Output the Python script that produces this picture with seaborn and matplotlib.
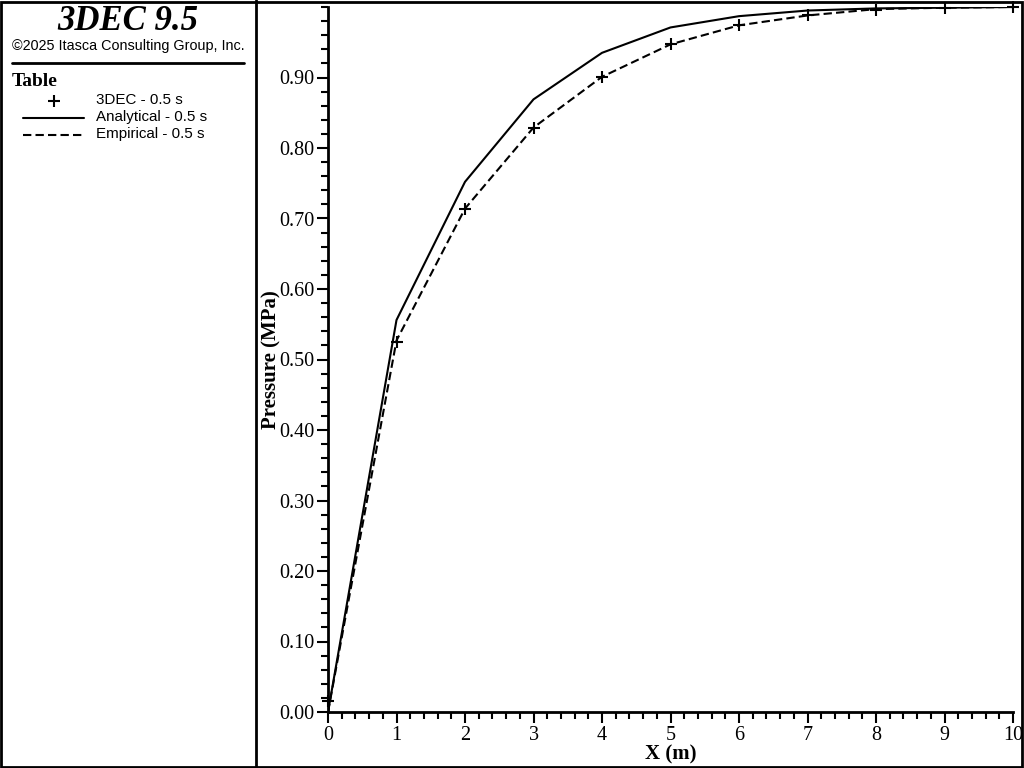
import numpy as np
import pandas as pd
import seaborn as sns
import matplotlib.pyplot as plt
from matplotlib.ticker import MultipleLocator, FormatStrFormatter
from matplotlib.lines import Line2D

sns.set_style('white')
plt.rcParams['text.color'] = 'black'
plt.rcParams['axes.labelcolor'] = 'black'
plt.rcParams['xtick.color'] = 'black'
plt.rcParams['ytick.color'] = 'black'

# valeurs
x_m = [0, 1, 2, 3, 4, 5, 6, 7, 8, 9, 10]
analytical = [0.0, 0.556, 0.752, 0.869, 0.935, 0.971, 0.987, 0.995, 0.998, 0.999, 1.0]
empirical = [0.0, 0.527, 0.714, 0.829, 0.901, 0.947, 0.974, 0.988, 0.997, 0.999, 1.0]
dec3 = [0.015, 0.525, 0.713, 0.829, 0.901, 0.948, 0.974, 0.989, 0.996, 0.999, 1.0]

df_lines = pd.DataFrame({
    'x': x_m * 2,
    'p': analytical + empirical,
    'serie': ['Analytical - 0.5 s'] * len(x_m) + ['Empirical - 0.5 s'] * len(x_m),
})
df_pts = pd.DataFrame({'x': x_m, 'p': dec3})

fig = plt.figure(figsize=(10.24, 7.68), dpi=100)
ax = fig.add_axes([328 / 1024, 56 / 768, 685 / 1024, 705 / 768])

sns.lineplot(data=df_lines, x='x', y='p', style='serie', color='black',
             dashes={'Analytical - 0.5 s': '', 'Empirical - 0.5 s': (4, 2)},
             linewidth=1.5, legend=False, ax=ax)
sns.scatterplot(data=df_pts, x='x', y='p', marker='+', color='black', s=80,
                linewidth=1.5, legend=False, ax=ax, zorder=5, clip_on=False)

ax.set_xlim(0, 10)
ax.set_ylim(0, 1.0)
ax.xaxis.set_major_locator(MultipleLocator(1))
ax.xaxis.set_minor_locator(MultipleLocator(0.2))
ax.yaxis.set_major_locator(MultipleLocator(0.1))
ax.yaxis.set_minor_locator(MultipleLocator(0.02))
ax.yaxis.set_major_formatter(FormatStrFormatter('%.2f'))
ax.set_yticks(np.arange(0, 0.95, 0.1))
ax.tick_params(which='major', direction='out', length=8, width=1.5, color='black',
               labelsize=14.5, pad=2, left=True, bottom=True, labelcolor='black')
ax.tick_params(which='minor', direction='out', length=5, width=1.5, color='black',
               left=True, bottom=True)
for lab in ax.get_xticklabels() + ax.get_yticklabels():
    lab.set_family('Liberation Serif')
for s in ['top', 'right']:
    ax.spines[s].set_visible(False)
for s in ['left', 'bottom']:
    ax.spines[s].set_color('black')
    ax.spines[s].set_linewidth(2)

ax.set_xlabel('X (m)', family='Liberation Serif', fontweight='bold', fontsize=15,
              labelpad=0, color='black')
ax.set_ylabel('Pressure (MPa)', family='Liberation Serif', fontweight='bold', fontsize=15,
              labelpad=-2, color='black')

# cadre et panneau de gauche
fig.add_artist(plt.Rectangle((0.001, 0.001), 0.997, 0.997, transform=fig.transFigure,
                             fill=False, edgecolor='black', linewidth=2))
fig.add_artist(Line2D([256 / 1024, 256 / 1024], [0, 1], transform=fig.transFigure,
                      color='black', linewidth=2))
fig.add_artist(Line2D([12 / 1024, 244 / 1024], [1 - 63 / 768] * 2, transform=fig.transFigure,
                      color='black', linewidth=2))

fig.text(128 / 1024, 1 - 21 / 768, '3DEC 9.5', family='Liberation Serif', fontweight='bold',
         style='italic', fontsize=25, ha='center', va='center', color='black')
fig.text(128 / 1024, 1 - 46 / 768, '\u00a92025 Itasca Consulting Group, Inc.',
         family='Liberation Sans', fontsize=10.35, ha='center', va='center', color='black')
fig.text(12 / 1024, 1 - 82 / 768, 'Table', family='Liberation Serif', fontweight='bold',
         fontsize=14, ha='left', va='center', color='black')

entries = [('3DEC - 0.5 s', 100), ('Analytical - 0.5 s', 117), ('Empirical - 0.5 s', 134)]
for txt, yp in entries:
    fig.text(96 / 1024, 1 - yp / 768, txt, family='Liberation Sans', fontsize=10.9,
             ha='left', va='center', color='black')
fig.add_artist(Line2D([54 / 1024], [1 - 101 / 768], transform=fig.transFigure, marker='+',
                      markersize=9, markeredgewidth=1.5, color='black', linestyle='none'))
fig.add_artist(Line2D([23 / 1024, 84 / 1024], [1 - 118 / 768] * 2, transform=fig.transFigure,
                      color='black', linewidth=1.5))
fig.add_artist(Line2D([23 / 1024, 84 / 1024], [1 - 135 / 768] * 2, transform=fig.transFigure,
                      color='black', linewidth=1.5, dashes=(4, 2)))

fig.savefig('out.png', dpi=100)
